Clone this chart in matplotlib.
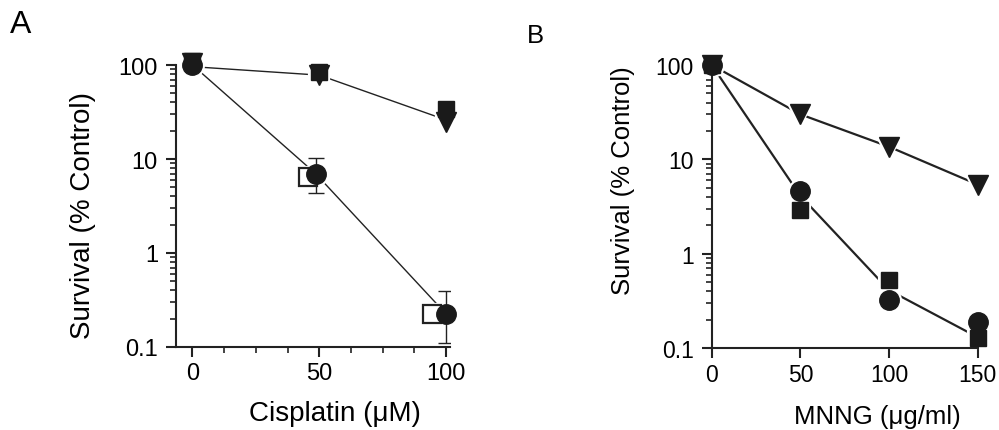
import numpy as np
import matplotlib
matplotlib.use("Agg")
import matplotlib.pyplot as plt
from matplotlib.ticker import FixedLocator, NullLocator, LogLocator

plt.rcParams['font.family'] = ['Liberation Sans', 'DejaVu Sans']

# ---- Panel A: cisplatin ----
a_circle_x = [0, 48.5, 100]
a_circle_y = [100, 7.0, 0.224]
a_circle_lo = [0, 2.7, 0.114]     # distance to lower end of error bar
a_circle_hi = [0, 3.2, 0.166]     # distance to upper end of error bar
a_open_sq_x = [45.5, 94.5]
a_open_sq_y = [6.4, 0.224]
a_sq_x = [0, 50, 100]
a_sq_y = [110, 84, 34]
a_tri_x = [0, 50, 100]
a_tri_y = [106, 78, 25]
a_upper_line_y = [96, 78, 26]

# ---- Panel B: MNNG ----
b_x = [0, 50, 100, 150]
b_tri_y = [100, 30, 13.6, 5.4]
b_circle_y = [100, 4.6, 0.32, 0.19]
b_sq_y = [100, 2.9, 0.53, 0.128]
b_lower_line_y = [100, 4.1, 0.41, 0.13]

yticks = [0.1, 1, 10, 100]
yticklabels = ['0.1', '1', '10', '100']

fig = plt.figure(figsize=(9.99, 4.31), dpi=100)
W, H = 999, 431
axA = fig.add_axes([176 / W, 1 - 348 / H, 274 / W, 282 / H])
axB = fig.add_axes([711.7 / W, 1 - 349 / H, 266 / W, 283 / H])


def style_axis(ax, tick_fs):
    ax.set_yscale('log')
    ax.set_ylim(0.1, 100)
    ax.spines['top'].set_visible(False)
    ax.spines['right'].set_visible(False)
    for s in ('left', 'bottom'):
        ax.spines[s].set_linewidth(1.5)
        ax.spines[s].set_color('#222222')
    ax.yaxis.set_major_locator(FixedLocator(yticks))
    ax.set_yticklabels(yticklabels)
    ax.yaxis.set_minor_locator(LogLocator(base=10, subs=np.arange(2, 10)))
    ax.yaxis.set_minor_formatter(plt.NullFormatter())
    ax.tick_params(which='major', length=7, width=1.5, labelsize=tick_fs, pad=4, color='#222222')
    ax.tick_params(which='minor', length=4, width=1.2, color='#222222')
    ax.tick_params(axis='y', which='major', pad=6)


style_axis(axA, 17)
style_axis(axB, 16.5)

# Panel A
axA.set_xlim(-6.5, 101.5)
axA.xaxis.set_major_locator(FixedLocator([0, 50, 100]))
axA.xaxis.set_minor_locator(FixedLocator([12.5, 25, 37.5, 62.5, 75, 87.5]))
axA.plot(a_circle_x, a_circle_y, color='#222222', lw=1.0, zorder=1)
axA.plot(a_tri_x, a_upper_line_y, color='#222222', lw=1.0, zorder=1)
halo = dict(color='white', linestyle='none', zorder=2, clip_on=False)
axA.plot(a_circle_x, a_circle_y, marker='o', ms=15, mec='white', mew=3, **halo)
axA.plot(a_open_sq_x, a_open_sq_y, marker='s', ms=13, mec='white', mew=3, **halo)
axA.plot(a_sq_x, a_sq_y, marker='s', ms=13, mec='white', mew=3, **halo)
axA.plot(a_tri_x, a_tri_y, marker='v', ms=16, mec='white', mew=3, **halo)
axA.plot(a_open_sq_x, a_open_sq_y, marker='s', ms=13, mfc='white', mec='#222222', mew=1.6,
         linestyle='none', zorder=3, clip_on=False)
axA.errorbar(a_circle_x[1:], a_circle_y[1:], yerr=[a_circle_lo[1:], a_circle_hi[1:]],
             fmt='none', ecolor='#222222', elinewidth=1.0, capsize=5.5, capthick=1.0, zorder=4)
axA.plot(a_sq_x, a_sq_y, marker='s', ms=12, color='#1a1a1a', linestyle='none', zorder=4, clip_on=False)
axA.plot(a_tri_x, a_tri_y, marker='v', ms=15, color='#1a1a1a', linestyle='none', zorder=4, clip_on=False)
axA.plot(a_circle_x, a_circle_y, marker='o', ms=14, color='#1a1a1a', linestyle='none', zorder=5, clip_on=False)

axA.set_xlabel('Cisplatin (\u03bcM)', fontsize=20)
axA.set_ylabel('Survival (% Control)', fontsize=20)
axA.xaxis.set_label_coords(0.58, -0.234)
axA.xaxis.label.set_va('center')
axA.yaxis.set_label_coords(-0.339, 0.47)
axA.yaxis.label.set_va('center')

# Panel B
axB.set_xlim(0, 150)
axB.xaxis.set_major_locator(FixedLocator(b_x))
axB.xaxis.set_minor_locator(NullLocator())
axB.plot(b_x, b_tri_y, color='#222222', lw=1.6, zorder=1)
axB.plot(b_x, b_lower_line_y, color='#222222', lw=1.6, zorder=1)
axB.plot(b_x, b_tri_y, marker='v', ms=16, mec='white', mew=3, **halo)
axB.plot(b_x, b_circle_y, marker='o', ms=15, mec='white', mew=3, **halo)
axB.plot(b_x, b_sq_y, marker='s', ms=13, mec='white', mew=3, **halo)
axB.plot(b_x, b_tri_y, marker='v', ms=15, color='#1a1a1a', linestyle='none', zorder=4, clip_on=False)
axB.plot(b_x, b_sq_y, marker='s', ms=12, color='#1a1a1a', linestyle='none', zorder=4, clip_on=False)
axB.plot(b_x, b_circle_y, marker='o', ms=14, color='#1a1a1a', linestyle='none', zorder=5, clip_on=False)

axB.set_xlabel('MNNG (\u03bcg/ml)', fontsize=18.5)
axB.set_ylabel('Survival (% Control)', fontsize=18.5)
axB.xaxis.set_label_coords(0.621, -0.24)
axB.xaxis.label.set_va('center')
axB.yaxis.set_label_coords(-0.335, 0.596)
axB.yaxis.label.set_va('center')

fig.text(10 / W, 1 - 33 / H, 'A', fontsize=23, ha='left', va='baseline')
fig.text(527 / W, 1 - 43 / H, 'B', fontsize=18.5, ha='left', va='baseline')

fig.savefig('out.png', dpi=100)
